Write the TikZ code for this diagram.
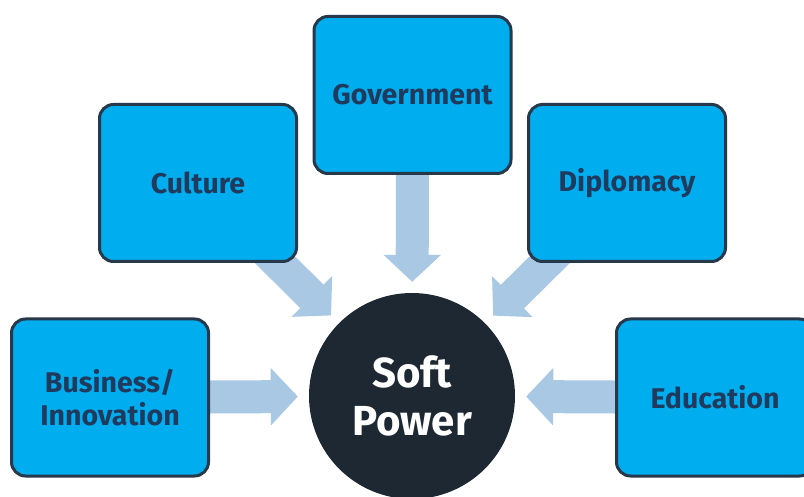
\documentclass[tikz,border=0pt]{standalone}
\usepackage{fontspec}
\setmainfont{Fira Sans}
\usetikzlibrary{arrows.meta,backgrounds}
\definecolor{boxfill}{HTML}{00AEEF}
\definecolor{boxline}{HTML}{26384A}
\definecolor{boxtext}{HTML}{1F3A5C}
\definecolor{arrowc}{HTML}{A8C8E4}
\definecolor{circfill}{HTML}{1E2833}
\begin{document}
\begin{tikzpicture}[x=1pt,y=-1pt,
  topic/.style={draw=boxline, line width=3pt, fill=boxfill, rounded corners=14pt,
    minimum width=197pt, minimum height=157pt, inner sep=0pt, text=boxtext,
    font=\fontsize{28.5}{33}\selectfont\bfseries, align=center},
  hub/.style={circle, fill=circfill, minimum size=206pt, inner sep=0pt, text=white,
    font=\fontsize{42}{48}\selectfont\bfseries, align=center},
  fat/.style={draw=arrowc, line width=33pt, -{Triangle[length=27pt,width=56pt]},
    shorten <=-20pt, shorten >=11pt}]
\useasboundingbox (0,0) rectangle (804,497);
\node[topic] (gov) at (412.5,95) {Government};
\node[topic] (cul) at (198,183) {Culture};
\node[topic] (dip) at (627,183) {Diplomacy};
\node[topic] (bus) at (110,397.5) {Business/\\Innovation};
\node[topic] (edu) at (715,397.5) {Education};
\node[hub] (sp) at (412,396) {Soft\\Power};
\begin{scope}[on background layer]
\draw[fat] (gov) -- (sp);
\draw[fat] (cul) -- (sp);
\draw[fat] (dip) -- (sp);
\draw[fat] (bus) -- (sp);
\draw[fat] (edu) -- (sp);
\end{scope}
\end{tikzpicture}
\end{document}
